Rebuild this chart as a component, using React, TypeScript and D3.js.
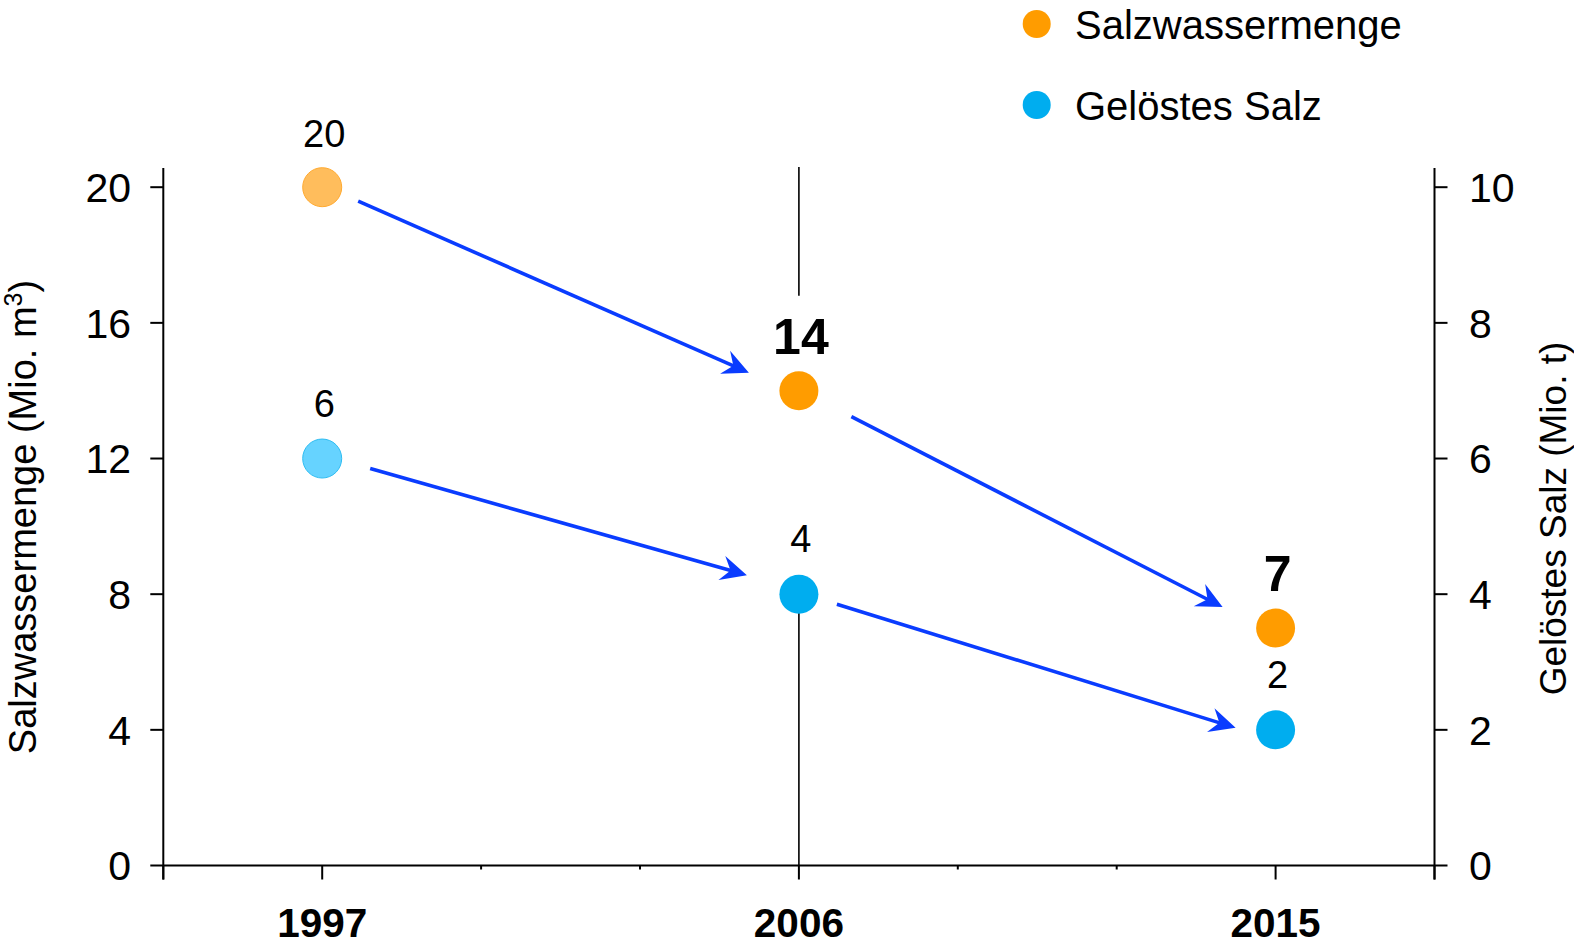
import React from "react";
import * as d3 from "d3";

// ---- data ----
const years = [1997, 2006, 2015];
const salzwassermenge = [20, 14, 7]; // Mio. m³ (left axis)
const geloestesSalz = [6, 4, 2]; // Mio. t (right axis)
const salzLabelBold = [false, true, true];
const salzLabels = ["20", "14", "7"];
const salzLabelsBlue = ["6", "4", "2"];
const leftTicks = [0, 4, 8, 12, 16, 20];
const rightTicks = [0, 2, 4, 6, 8, 10];
const xMajorTicks = [1994, 1997, 2006, 2015, 2018];
const xMinorTicks = [2000, 2003, 2009, 2012];
const legendItems = ["Salzwassermenge", "Gelöstes Salz"];

// ---- style ----
const W = 1574;
const H = 946;
const FONT = "Liberation Sans, Arial, Helvetica, sans-serif";
const ORANGE = "#ff9c00";
const ORANGE_LIGHT = "#ffbd5c";
const ORANGE_LIGHT_STROKE = "#ffaa30";
const BLUE = "#00adef";
const BLUE_LIGHT = "#66d3ff";
const BLUE_LIGHT_STROKE = "#2fbdf2";
const ARROW = "#0a3cff";
const R = 19.5;

// arrow offsets relative to the connected points (start from p0, tip from p1)
const arrowOffsets = [
  { s: [36, 14], e: [-50, -18] },
  { s: [52.5, 26], e: [-53, -21] },
  { s: [48, 10], e: [-52, -19] },
  { s: [38, 10], e: [-40, -2] },
];

export default function App() {
  const plotTop = 168;
  const x = d3.scaleLinear().domain([1994, 2018]).range([163.3, 1434.5]);
  const yL = d3.scaleLinear().domain([0, 20]).range([865.5, 187.2]);
  const yR = d3.scaleLinear().domain([0, 10]).range([865.5, 187.2]);
  const x0 = x(1994);
  const x1 = x(2018);
  const y0 = yL(0);

  const orangePts = years.map((yr, i) => [x(yr), yL(salzwassermenge[i])]);
  const bluePts = years.map((yr, i) => [x(yr), yR(geloestesSalz[i])]);

  const pairs = [
    [orangePts[0], orangePts[1]],
    [orangePts[1], orangePts[2]],
    [bluePts[0], bluePts[1]],
    [bluePts[1], bluePts[2]],
  ];

  const arrows = pairs.map(([p0, p1], i) => {
    const o = arrowOffsets[i];
    const sx = p0[0] + o.s[0];
    const sy = p0[1] + o.s[1];
    const tx = p1[0] + o.e[0];
    const ty = p1[1] + o.e[1];
    const dx = tx - sx;
    const dy = ty - sy;
    const len = Math.hypot(dx, dy);
    const ux = dx / len;
    const uy = dy / len;
    const nx = -uy;
    const ny = ux;
    const L = 26;
    const Wd = 12.5;
    const N = 17;
    const head = d3.path();
    head.moveTo(tx, ty);
    head.lineTo(tx - L * ux + Wd * nx, ty - L * uy + Wd * ny);
    head.lineTo(tx - N * ux, ty - N * uy);
    head.lineTo(tx - L * ux - Wd * nx, ty - L * uy - Wd * ny);
    head.closePath();
    return {
      line: [sx, sy, tx - (N - 2) * ux, ty - (N - 2) * uy],
      head: head.toString(),
    };
  });

  const x2006 = x(2006);

  return (
    <svg
      width={W}
      height={H}
      viewBox={`0 0 ${W} ${H}`}
      style={{ position: "absolute", left: 0, top: 0, background: "#fff" }}
      fontFamily={FONT}
    >
      <rect x={0} y={0} width={W} height={H} fill="#fff" />

      {/* vertical separator at 2006 */}
      <line x1={x2006} x2={x2006} y1={plotTop - 1} y2={orangePts[1][1] - 95} stroke="#000" strokeWidth={1.6} />
      <line x1={x2006} x2={x2006} y1={bluePts[1][1]} y2={y0} stroke="#000" strokeWidth={1.6} />

      {/* axes */}
      <line x1={x0} x2={x0} y1={plotTop} y2={y0 + 14} stroke="#000" strokeWidth={2} />
      <line x1={x1} x2={x1} y1={plotTop} y2={y0 + 14} stroke="#000" strokeWidth={2} />
      <line x1={x0} x2={x1} y1={y0} y2={y0} stroke="#000" strokeWidth={2} />

      {/* left ticks */}
      {leftTicks.map((t) => (
        <g key={"l" + t}>
          <line x1={x0 - 13} x2={x0} y1={yL(t)} y2={yL(t)} stroke="#000" strokeWidth={2} />
          <text x={131} y={yL(t)} dy="0.36em" textAnchor="end" fontSize={41} fill="#000">
            {t}
          </text>
        </g>
      ))}
      {/* right ticks */}
      {rightTicks.map((t) => (
        <g key={"r" + t}>
          <line x1={x1} x2={x1 + 13} y1={yR(t)} y2={yR(t)} stroke="#000" strokeWidth={2} />
          <text x={1469} y={yR(t)} dy="0.36em" textAnchor="start" fontSize={41} fill="#000">
            {t}
          </text>
        </g>
      ))}
      {/* x ticks */}
      {xMajorTicks.map((t) => (
        <line key={"xm" + t} x1={x(t)} x2={x(t)} y1={y0} y2={y0 + 14} stroke="#000" strokeWidth={2} />
      ))}
      {xMinorTicks.map((t) => (
        <line key={"xn" + t} x1={x(t)} x2={x(t)} y1={y0} y2={y0 + 4} stroke="#000" strokeWidth={2} />
      ))}
      {years.map((yr) => (
        <text key={"xl" + yr} x={x(yr)} y={937} textAnchor="middle" fontSize={40.5} fontWeight="bold" fill="#000">
          {yr}
        </text>
      ))}

      {/* axis titles */}
      <text
        transform={`translate(36, 517) rotate(-90)`}
        textAnchor="middle"
        fontSize={38}
        fill="#000"
      >
        Salzwassermenge (Mio. m
        <tspan fontSize={25} dy={-14}>3</tspan>
        <tspan dy={14}>)</tspan>
      </text>
      <text
        transform={`translate(1566, 518.5) rotate(-90)`}
        textAnchor="middle"
        fontSize={37}
        fill="#000"
      >
        Gelöstes Salz (Mio. t)
      </text>

      {/* arrows */}
      {arrows.map((a, i) => (
        <g key={"a" + i}>
          <line x1={a.line[0]} y1={a.line[1]} x2={a.line[2]} y2={a.line[3]} stroke={ARROW} strokeWidth={3.6} />
          <path d={a.head} fill={ARROW} />
        </g>
      ))}

      {/* markers */}
      {orangePts.map((p, i) => (
        <circle
          key={"o" + i}
          cx={p[0]}
          cy={p[1]}
          r={R}
          fill={i === 0 ? ORANGE_LIGHT : ORANGE}
          stroke={i === 0 ? ORANGE_LIGHT_STROKE : "none"}
          strokeWidth={1}
        />
      ))}
      {bluePts.map((p, i) => (
        <circle
          key={"b" + i}
          cx={p[0]}
          cy={p[1]}
          r={R}
          fill={i === 0 ? BLUE_LIGHT : BLUE}
          stroke={i === 0 ? BLUE_LIGHT_STROKE : "none"}
          strokeWidth={1}
        />
      ))}

      {/* value labels */}
      {orangePts.map((p, i) => (
        <text
          key={"ol" + i}
          x={p[0] + 2}
          y={p[1] - (salzLabelBold[i] ? 37 : 40)}
          textAnchor="middle"
          fontSize={salzLabelBold[i] ? 50 : 38}
          fontWeight={salzLabelBold[i] ? "bold" : "normal"}
          fill="#000"
        >
          {salzLabels[i]}
        </text>
      ))}
      {bluePts.map((p, i) => (
        <text key={"bl" + i} x={p[0] + 2} y={p[1] - 42} textAnchor="middle" fontSize={38} fill="#000">
          {salzLabelsBlue[i]}
        </text>
      ))}

      {/* legend */}
      {legendItems.map((name, i) => (
        <g key={"lg" + i}>
          <circle cx={1036.7} cy={24 + i * 81} r={14} fill={i === 0 ? ORANGE : BLUE} />
          <text x={1075} y={38.5 + i * 81} fontSize={40} fill="#000">
            {name}
          </text>
        </g>
      ))}
    </svg>
  );
}
